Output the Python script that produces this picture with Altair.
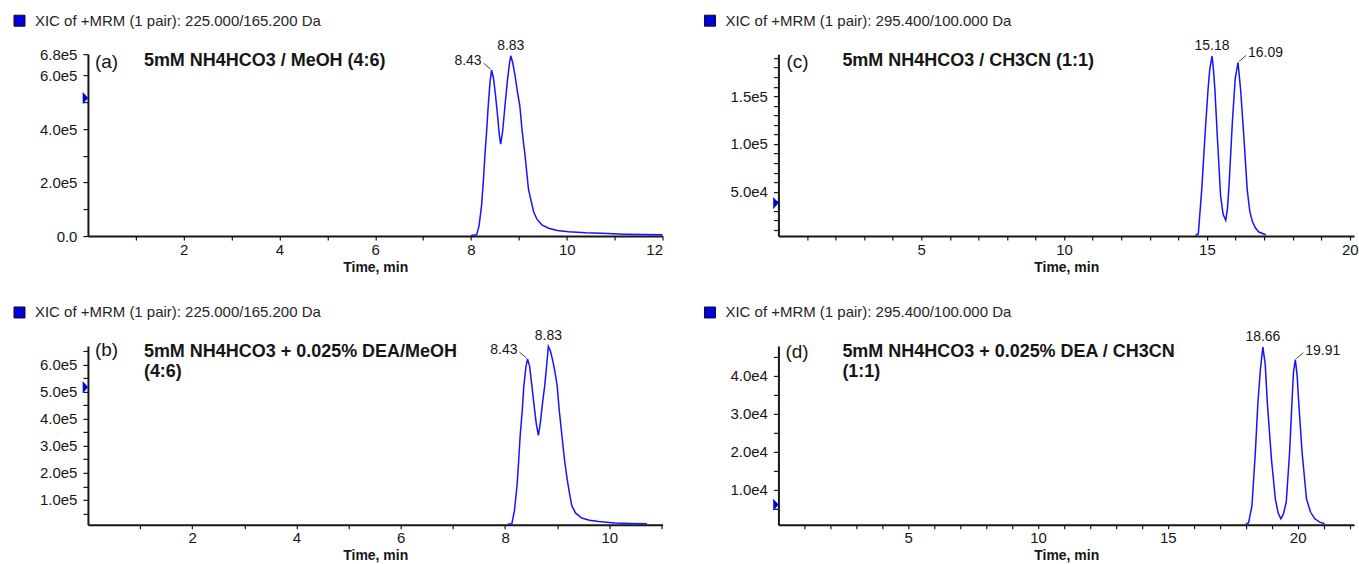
import altair as alt
import pandas as pd

FONT = "Liberation Sans"
LINE_BLUE = "#1414ff"
MARK_BLUE = "#0000e0"
INK = "#161616"

HEADER_AB = "XIC of +MRM (1 pair): 225.000/165.200 Da"
HEADER_CD = "XIC of +MRM (1 pair): 295.400/100.000 Da"

# ---------------- panel (a) ----------------
a_time = [8.00, 8.12, 8.17, 8.22, 8.26, 8.29, 8.33, 8.36, 8.40, 8.43, 8.47, 8.51, 8.55,
          8.59, 8.62, 8.66, 8.71, 8.76, 8.80, 8.83, 8.87, 8.92, 8.97, 9.02, 9.07, 9.13,
          9.20, 9.25, 9.31, 9.38, 9.48, 9.62, 9.80, 10.04, 10.40, 10.73, 11.20, 11.60, 12.00]
a_int = [2e3, 5e3, 4.0e4, 1.13e5, 2.1e5, 3.0e5, 4.0e5, 4.87e5, 5.8e5, 6.2e5, 5.9e5, 5.3e5, 4.6e5,
         3.8e5, 3.44e5, 3.9e5, 4.87e5, 5.8e5, 6.4e5, 6.74e5, 6.5e5, 6.0e5, 5.4e5, 4.87e5, 3.9e5, 3.0e5,
         1.76e5, 1.35e5, 9.0e4, 6.2e4, 4.2e4, 2.9e4, 2.1e4, 1.6e4, 1.2e4, 1.0e4, 7e3, 6e3, 5e3]
a_top_time, a_top_int, a_top_label = [8.83], [6.74e5], ["8.83"]
a_side_time, a_side_int, a_side_label = [8.43], [6.2e5], ["8.43"]
a_marker = 5.16e5
a_xdomain = [0, 12]
a_ydomain = [0, 6.8e5]
a_xticks = list(range(1, 13))
a_xlabels = {2: "2", 4: "4", 6: "6", 8: "8", 10: "10", 12: "12"}
a_yticks = [0, 1e5, 2e5, 3e5, 4e5, 5e5, 6e5, 6.8e5]
a_ylabels = {0: "0.0", 2e5: "2.0e5", 4e5: "4.0e5", 6e5: "6.0e5", 6.8e5: "6.8e5"}

# ---------------- panel (b) ----------------
b_time = [8.05, 8.13, 8.18, 8.23, 8.26, 8.29, 8.33, 8.36, 8.40, 8.43, 8.47, 8.51, 8.55,
          8.60, 8.64, 8.68, 8.72, 8.76, 8.80, 8.83, 8.87, 8.92, 8.96, 9.00, 9.04, 9.09,
          9.14, 9.19, 9.24, 9.28, 9.35, 9.47, 9.62, 9.80, 10.10, 10.40, 10.72]
b_int = [1.0e4, 1.2e4, 6.0e4, 1.53e5, 2.4e5, 3.38e5, 4.3e5, 5.2e5, 5.9e5, 6.2e5, 5.95e5, 5.3e5, 4.6e5,
         3.8e5, 3.38e5, 3.9e5, 4.6e5, 5.2e5, 6.0e5, 6.67e5, 6.5e5, 6.1e5, 5.7e5, 5.2e5, 4.3e5, 3.38e5,
         2.5e5, 1.78e5, 1.2e5, 7.9e4, 5.2e4, 3.3e4, 2.5e4, 2.0e4, 1.5e4, 1.3e4, 1.2e4]
b_top_time, b_top_int, b_top_label = [8.83], [6.67e5], ["8.83"]
b_side_time, b_side_int, b_side_label = [8.43], [6.2e5], ["8.43"]
b_marker = 5.16e5
b_xdomain = [0, 11.02]
b_ydomain = [8e3, 6.685e5]
b_xticks = list(range(1, 12))
b_xlabels = {2: "2", 4: "4", 6: "6", 8: "8", 10: "10"}
b_yticks = [5e4, 1e5, 1.5e5, 2e5, 2.5e5, 3e5, 3.5e5, 4e5, 4.5e5, 5e5, 5.5e5, 6e5, 6.5e5]
b_ylabels = {1e5: "1.0e5", 2e5: "2.0e5", 3e5: "3.0e5", 4e5: "4.0e5", 5e5: "5.0e5", 6e5: "6.0e5"}

# ---------------- panel (c) ----------------
c_time = [14.60, 14.70, 14.82, 14.94, 15.04, 15.10, 15.18, 15.23, 15.28, 15.37, 15.48, 15.57, 15.66,
          15.72, 15.78, 15.89, 15.99, 16.09, 16.18, 16.30, 16.41, 16.50, 16.59, 16.70, 16.82, 17.06]
c_int = [4.0e3, 6.0e3, 5.25e4, 1.12e5, 1.57e5, 1.78e5, 1.92e5, 1.78e5, 1.57e5, 1.05e5, 4.55e4, 2.6e4, 2.0e4,
         3.2e4, 5.95e4, 1.22e5, 1.68e5, 1.853e5, 1.57e5, 1.05e5, 5.25e4, 3.0e4, 1.9e4, 1.2e4, 7.8e3, 5.0e3]
c_top_time, c_top_int, c_top_label = [15.18], [1.92e5], ["15.18"]
c_side_time, c_side_int, c_side_label = [16.09], [1.853e5], ["16.09"]
c_marker = 3.81e4
c_xdomain = [0, 20.15]
c_ydomain = [3.6e3, 1.94e5]
c_xticks = list(range(1, 21))
c_xlabels = {5: "5", 10: "10", 15: "15", 20: "20"}
c_yticks = [1e4 * k for k in range(1, 20)]
c_ylabels = {5e4: "5.0e4", 1e5: "1.0e5", 1.5e5: "1.5e5"}

# ---------------- panel (d) ----------------
d_time = [18.00, 18.11, 18.24, 18.37, 18.47, 18.57, 18.66, 18.75, 18.83, 18.99, 19.14, 19.25, 19.35,
          19.45, 19.56, 19.69, 19.78, 19.84, 19.91, 19.98, 20.04, 20.17, 20.34, 20.50, 20.66, 20.85, 21.04]
d_int = [1.0e3, 1.2e3, 5.8e3, 1.98e4, 3.3e4, 4.2e4, 4.75e4, 4.3e4, 3.3e4, 1.8e4, 7.5e3, 3.8e3, 2.3e3,
         3.5e3, 6.7e3, 1.98e4, 3.3e4, 4.1e4, 4.42e4, 4.0e4, 3.3e4, 1.98e4, 7.5e3, 4.0e3, 2.3e3, 1.4e3, 1.0e3]
d_top_time, d_top_int, d_top_label = [18.66], [4.75e4], ["18.66"]
d_side_time, d_side_int, d_side_label = [19.91], [4.42e4], ["19.91"]
d_marker = 6.0e3
d_xdomain = [0, 22.17]
d_ydomain = [700, 4.78e4]
d_xticks = list(range(1, 23))
d_xlabels = {5: "5", 10: "10", 15: "15", 20: "20"}
d_yticks = [5e3 * k for k in range(1, 10)]
d_ylabels = {1e4: "1.0e4", 2e4: "2.0e4", 3e4: "3.0e4", 4e4: "4.0e4"}

TRIANGLE = "M-0.45,-1L0.45,0L-0.45,1Z"


def label_expr(mapping, tol):
    parts = [f"abs(datum.value - {v!r}) < {tol} ? '{s}'" for v, s in mapping.items()]
    return " : ".join(parts) + " : ''"


def panel(time, inten, top_t, top_v, top_l, side_t, side_v, side_l, side, marker,
          xdom, ydom, xticks, xlabels, yticks, ylabels, header, tag, cond,
          w, h, tag_pos, cond_pos):
    xs = alt.Scale(domain=xdom, nice=False, zero=False)
    ys = alt.Scale(domain=ydom, nice=False, zero=False)
    xaxis = alt.Axis(values=xticks, labelExpr=label_expr(xlabels, 1e-6), title="Time, min",
                     labelOverlap=False, grid=False)
    yaxis = alt.Axis(values=yticks, labelExpr=label_expr(ylabels, 1), title=None,
                     labelOverlap=False, grid=False)
    X = alt.X("t:Q", scale=xs, axis=xaxis)
    Y = alt.Y("v:Q", scale=ys, axis=yaxis)

    trace = alt.Chart(pd.DataFrame({"t": time, "v": inten})).mark_line(
        color=LINE_BLUE, strokeWidth=1.5).encode(x=X, y=Y)

    marker_df = pd.DataFrame({"t": [xdom[0]], "v": [marker], "s": [header]})
    mark = alt.Chart(marker_df).mark_point(
        shape=TRIANGLE, filled=True, size=121, opacity=1, xOffset=-2.5,
        stroke=MARK_BLUE, strokeWidth=0.5).encode(
        x=X, y=Y,
        color=alt.Color("s:N", scale=alt.Scale(domain=[header], range=[MARK_BLUE]),
                        legend=alt.Legend(orient="none", legendX=-76, legendY=-41, title=None,
                                          symbolType="square", symbolSize=121,
                                          symbolStrokeColor="#111111", symbolStrokeWidth=1,
                                          symbolFillColor=MARK_BLUE,
                                          labelFont=FONT, labelFontSize=15, labelColor="#262626",
                                          labelOffset=8, labelLimit=0, padding=0)))

    top_df = pd.DataFrame({"t": top_t, "v": top_v, "lab": top_l})
    top_text = alt.Chart(top_df).mark_text(
        align="center", baseline="bottom", dy=-3, fontSize=14, font=FONT, color=INK).encode(
        x=X, y=Y, text="lab:N")

    side_df = pd.DataFrame({"t": side_t, "v": side_v, "lab": side_l})
    sgn = -1 if side == "left" else 1
    side_text = alt.Chart(side_df).mark_text(
        align="right" if side == "left" else "left", baseline="middle",
        dx=10 * sgn, dy=-9, fontSize=14, font=FONT, color=INK).encode(
        x=X, y=Y, text="lab:N")
    leader = alt.Chart(side_df).mark_rule(
        color="#444444", strokeWidth=1, xOffset=8 * sgn, yOffset=-7,
        x2Offset=1 * sgn, y2Offset=-1).encode(x=X, y=Y, x2="t", y2="v")

    tag_text = alt.Chart(pd.DataFrame({"s": [tag]})).mark_text(
        align="left", baseline="middle", fontSize=19, font=FONT, color=INK).encode(
        x=alt.value(tag_pos[0]), y=alt.value(tag_pos[1]), text="s:N")
    cond_text = alt.Chart(pd.DataFrame({"s": [cond]})).mark_text(
        align="left", baseline="middle", fontSize=18, fontWeight="bold", font=FONT,
        color=INK, lineBreak="\n", lineHeight=20.5).encode(
        x=alt.value(cond_pos[0]), y=alt.value(cond_pos[1]), text="s:N")

    return alt.layer(trace, mark, leader, top_text, side_text, tag_text, cond_text).properties(
        width=w, height=h)


pa = panel(a_time, a_int, a_top_time, a_top_int, a_top_label, a_side_time, a_side_int,
           a_side_label, "left", a_marker, a_xdomain, a_ydomain, a_xticks, a_xlabels,
           a_yticks, a_ylabels, HEADER_AB, "(a)", "5mM NH4HCO3 / MeOH (4:6)",
           575, 182, (7, 8), (56, 7))
pb = panel(b_time, b_int, b_top_time, b_top_int, b_top_label, b_side_time, b_side_int,
           b_side_label, "left", b_marker, b_xdomain, b_ydomain, b_xticks, b_xlabels,
           b_yticks, b_ylabels, HEADER_AB, "(b)", "5mM NH4HCO3 + 0.025% DEA/MeOH\n(4:6)",
           575, 179, (7, 4), (56, 6))
pc = panel(c_time, c_int, c_top_time, c_top_int, c_top_label, c_side_time, c_side_int,
           c_side_label, "right", c_marker, c_xdomain, c_ydomain, c_xticks, c_xlabels,
           c_yticks, c_ylabels, HEADER_CD, "(c)", "5mM NH4HCO3 / CH3CN (1:1)",
           576, 182, (8, 8), (64, 7))
pd_ = panel(d_time, d_int, d_top_time, d_top_int, d_top_label, d_side_time, d_side_int,
            d_side_label, "right", d_marker, d_xdomain, d_ydomain, d_xticks, d_xlabels,
            d_yticks, d_ylabels, HEADER_CD, "(d)", "5mM NH4HCO3 + 0.025% DEA / CH3CN\n(1:1)",
            576, 179, (7, 6), (64, 6))

chart = alt.concat(pa, pc, pb, pd_, columns=2, bounds="flush",
                   spacing={"row": 110, "column": 116}).resolve_scale(
    x="independent", y="independent", color="independent").resolve_legend(
    color="independent").properties(
    padding={"left": 12, "top": 13, "right": 0, "bottom": 0}
).configure_view(stroke=None).configure_axis(
    domainColor=INK, domainWidth=2, tickColor=INK, tickWidth=1.2,
    labelFont=FONT, labelFontSize=15, labelColor=INK,
    titleFont=FONT, titleFontSize=14, titleFontWeight="bold", titleColor=INK,
    zindex=1
).configure_axisX(tickSize=4, labelPadding=2, titlePadding=3
).configure_axisY(tickSize=5, labelPadding=6)

chart.save("out.html", embed_options={"renderer": "svg", "actions": False})
